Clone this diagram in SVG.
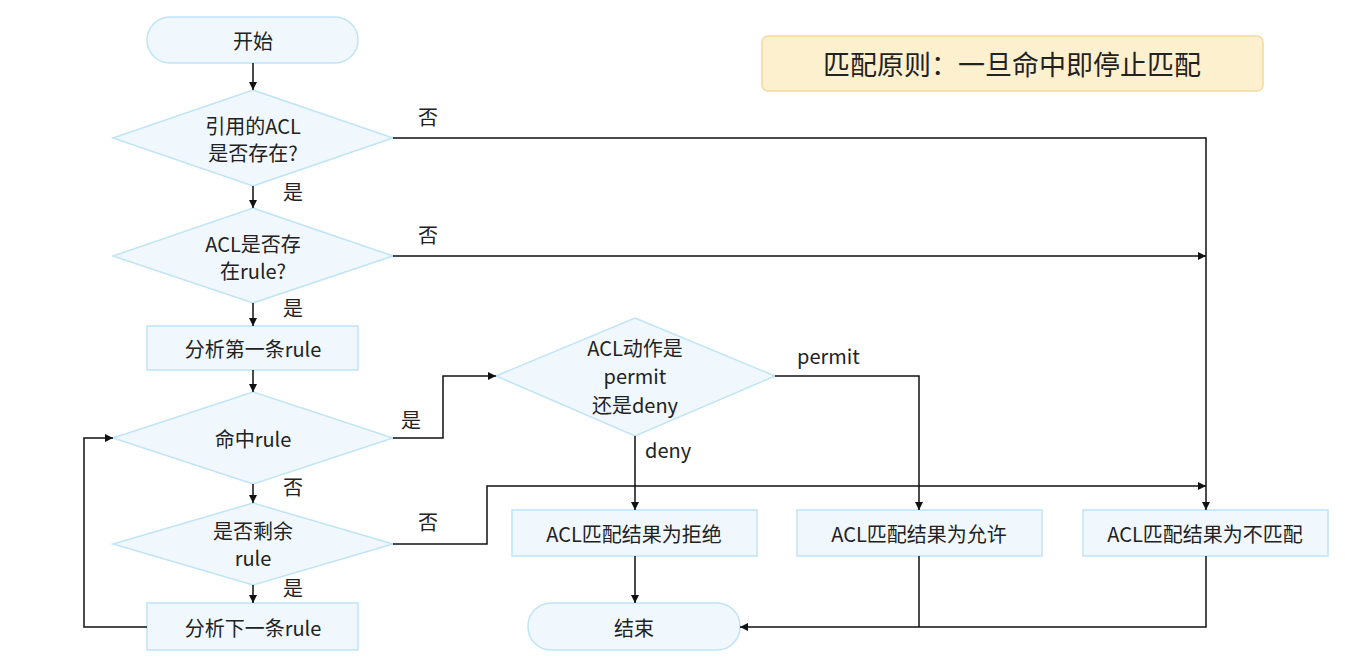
<svg xmlns="http://www.w3.org/2000/svg" width="1345" height="667" viewBox="0 0 1345 667">
<style>
.n{fill:#f0f8fd;stroke:#bfe4f6;stroke-width:1.5}
.t{font-family:"Noto Sans CJK SC","Noto Sans",sans-serif;font-size:20px;fill:#222;text-anchor:middle;dominant-baseline:central}
.l{font-family:"Noto Sans CJK SC","Noto Sans",sans-serif;font-size:20px;fill:#222}
.c{fill:none;stroke:#111;stroke-width:1.5}
</style>
<defs><marker id="a" viewBox="0 0 10 10" refX="10" refY="5" markerWidth="8" markerHeight="8" markerUnits="userSpaceOnUse" orient="auto"><path d="M0,0L10,5L0,10z" fill="#111"/></marker></defs>
<rect width="1345" height="667" fill="#fff"/>
<g id="legend"><rect x="762" y="36" width="501" height="55" rx="6" fill="#fdf0cf" stroke="#f5d9a0" stroke-width="1.5"/><text class="t" x="1012" y="63" style="font-size:27px">匹配原则：一旦命中即停止匹配</text></g>
<g id="start"><rect class="n" x="147" y="17" width="211" height="46" rx="23"/><text class="t" x="253" y="40">开始</text></g>
<g id="d1"><polygon class="n" points="253,90 393,138 253,186 113,138"/><text class="t" x="253" y="125">引用的ACL</text><text class="t" x="253" y="152">是否存在?</text></g>
<g id="d2"><polygon class="n" points="253,208 393,256 253,303 113,256"/><text class="t" x="253" y="243">ACL是否存</text><text class="t" x="253" y="270">在rule?</text></g>
<g id="r1"><rect class="n" x="147" y="326" width="211" height="44"/><text class="t" x="253" y="348">分析第一条rule</text></g>
<g id="d3"><polygon class="n" points="253,392 393,438 253,484 113,438"/><text class="t" x="253" y="438">命中rule</text></g>
<g id="d4"><polygon class="n" points="253,503 393,544 253,585 113,544"/><text class="t" x="253" y="530">是否剩余</text><text class="t" x="253" y="557">rule</text></g>
<g id="r2"><rect class="n" x="147" y="603" width="211" height="47"/><text class="t" x="253" y="627">分析下一条rule</text></g>
<g id="d5"><polygon class="n" points="635,318 775,376 635,436 496,376"/><text class="t" x="635" y="347">ACL动作是</text><text class="t" x="635" y="375">permit</text><text class="t" x="635" y="404">还是deny</text></g>
<g id="deny"><rect class="n" x="512" y="510" width="245" height="46"/><text class="t" x="634" y="533">ACL匹配结果为拒绝</text></g>
<g id="permit"><rect class="n" x="797" y="510" width="245" height="46"/><text class="t" x="919" y="533">ACL匹配结果为允许</text></g>
<g id="nomatch"><rect class="n" x="1083" y="510" width="245" height="46"/><text class="t" x="1205" y="533">ACL匹配结果为不匹配</text></g>
<g id="end"><rect class="n" x="528" y="603" width="212" height="47" rx="23"/><text class="t" x="634" y="627">结束</text></g>
<g id="connectors">
<path class="c" d="M253,63V90" marker-end="url(#a)"/>
<path class="c" d="M253,186V208" marker-end="url(#a)"/>
<path class="c" d="M253,303V326" marker-end="url(#a)"/>
<path class="c" d="M253,370V392" marker-end="url(#a)"/>
<path class="c" d="M253,484V503" marker-end="url(#a)"/>
<path class="c" d="M253,585V603" marker-end="url(#a)"/>
<path class="c" d="M393,138H1206V510" marker-end="url(#a)"/>
<path class="c" d="M393,256H1206" marker-end="url(#a)"/>
<path class="c" d="M393,438H443V376H496" marker-end="url(#a)"/>
<path class="c" d="M775,376H919V510" marker-end="url(#a)"/>
<path class="c" d="M635,436V510" marker-end="url(#a)"/>
<path class="c" d="M393,544H487V486H1206" marker-end="url(#a)"/>
<path class="c" d="M147,627H84V438H113" marker-end="url(#a)"/>
<path class="c" d="M635,556V603" marker-end="url(#a)"/>
<path class="c" d="M919,556V627"/>
<path class="c" d="M1206,556V627H740" marker-end="url(#a)"/>
</g>
<g id="labels">
<text class="l" x="418" y="125">否</text>
<text class="l" x="283" y="200">是</text>
<text class="l" x="418" y="243">否</text>
<text class="l" x="283" y="316">是</text>
<text class="l" x="401" y="428">是</text>
<text class="l" x="797" y="364">permit</text>
<text class="l" x="645" y="458">deny</text>
<text class="l" x="283" y="495">否</text>
<text class="l" x="418" y="530">否</text>
<text class="l" x="283" y="596">是</text>
</g>
</svg>
